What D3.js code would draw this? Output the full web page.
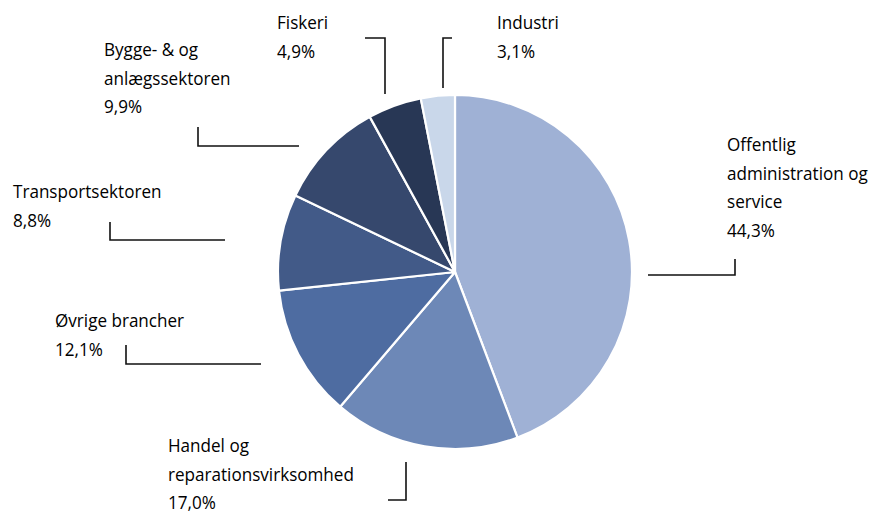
<!DOCTYPE html>
<html><head><meta charset="utf-8">
<script src="https://cdn.jsdelivr.net/npm/d3@7"></script>
<style>body{margin:0;background:#fff}svg{display:block}text{font-family:"Open Sans",sans-serif;font-size:19px;font-weight:500;fill:#000}</style>
</head><body><svg id="c" width="874" height="511"></svg>
<script>
const categories = ["Offentlig administration og service","Handel og reparationsvirksomhed","Øvrige brancher","Transportsektoren","Bygge- & og anlægssektoren","Fiskeri","Industri"];
const values = [44.3, 17.0, 12.1, 8.8, 9.9, 4.9, 3.1];
const valueLabels = ["44,3%","17,0%","12,1%","8,8%","9,9%","4,9%","3,1%"];
const labelLines = [["Offentlig","administration og","service"],["Handel og","reparationsvirksomhed"],["Øvrige brancher"],["Transportsektoren"],["Bygge- & og","anlægssektoren"],["Fiskeri"],["Industri"]];
const colors = ["#9fb1d5","#6d88b7","#4e6ca1","#425a88","#36486d","#283755","#c9d7ea"];

// layout: text anchor (x, first baseline) and leader polyline
const layout = [
  {tx:727, ty:151, line:[[648,275],[735,275],[735,259]]},
  {tx:168, ty:452, line:[[388,500],[406,500],[406,462]]},
  {tx:55,  ty:327, line:[[126,345],[126,364],[261,364]]},
  {tx:13,  ty:198, line:[[110,222],[110,240],[225,240]]},
  {tx:104, ty:56,  line:[[198,127],[198,146],[299,146]]},
  {tx:277, ty:29,  line:[[365,38],[385,38],[385,94]]},
  {tx:497, ty:29,  line:[[452,38],[443,38],[443,88]]}
];
const lineH = 28.7;
const sx = 0.9;

const svg = d3.select("#c");
const cx = 455, cy = 272, r = 177;
const pie = d3.pie().sort(null).value(d => d)(values);
const arc = d3.arc().innerRadius(0).outerRadius(r);
const g = svg.append("g").attr("transform", `translate(${cx},${cy})`);
g.selectAll("path").data(pie).join("path")
  .attr("d", arc).attr("fill", (d,i) => colors[i])
  .attr("stroke", "#fff").attr("stroke-width", 2.2).attr("stroke-linejoin","round");

const lg = svg.append("g");
layout.forEach((L, i) => {
  lg.append("path").attr("d", d3.line()(L.line)).attr("fill","none")
    .attr("stroke","#111").attr("stroke-width",1.6);
  const t = lg.append("text").attr("transform", `translate(${L.tx},${L.ty}) scale(${sx},1)`);
  const lines = labelLines[i].concat([valueLabels[i]]);
  lines.forEach((s, k) => t.append("tspan").attr("x", 0).attr("y", k*lineH).text(s));
});
</script></body></html>
